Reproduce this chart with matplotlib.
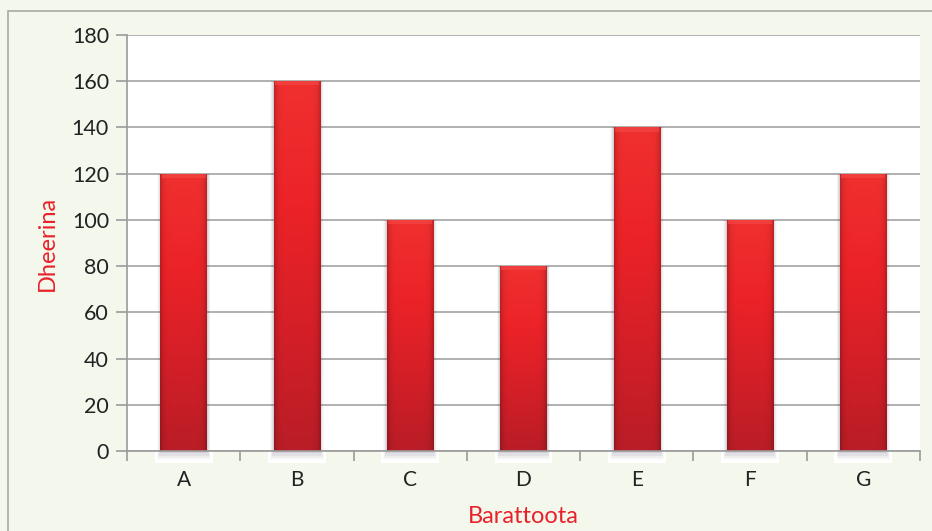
import numpy as np
import matplotlib.pyplot as plt
from matplotlib.patches import Rectangle
from matplotlib.colors import LinearSegmentedColormap

categories = ["A", "B", "C", "D", "E", "F", "G"]
values = [120, 160, 100, 80, 140, 100, 120]
y_ticks = [0, 20, 40, 60, 80, 100, 120, 140, 160, 180]
x_label = "Barattoota"
y_label = "Dheerina"

W, H = 932, 531
fig = plt.figure(figsize=(W / 100, H / 100), dpi=100)
fig.patch.set_facecolor("#f4f7ec")
plt.rcParams["font.family"] = ["Lato", "DejaVu Sans"]

# outer frame
fig.add_artist(Rectangle((8 / W, -0.05), 1.2, 1 - 11 / H + 0.05,
                         transform=fig.transFigure, fill=False,
                         edgecolor="#a8aaa6", linewidth=1.2))

left, right, top, bottom = 127, 920, 35, 451
ax = fig.add_axes([left / W, 1 - bottom / H, (right - left) / W, (bottom - top) / H])
ax.set_facecolor("white")

x = np.arange(len(categories))
bw = 0.41
bars = ax.bar(x, values, width=bw, color="none", edgecolor="none", zorder=3)

cmap = LinearSegmentedColormap.from_list(
    "redgrad", ["#b91d26", "#d51f28", "#ec2328", "#f0302f"])
grad = np.linspace(0, 1, 256).reshape(-1, 1)
hshade = 1 - 0.22 * np.abs(np.linspace(-1, 1, 64)) ** 8
for rect, v in zip(bars, values):
    x0 = rect.get_x()
    # white backing under the bar foot, below the axis
    ax.add_patch(Rectangle((x0 - 0.05, -5), bw + 0.1, 5, facecolor="white",
                           edgecolor="none", zorder=1.5, clip_on=False))
    # soft shadow
    for k, a in enumerate([0.10, 0.07, 0.05, 0.03]):
        d = 0.008 * (k + 1)
        ax.add_patch(Rectangle((x0 - d, -1.0 * (k + 1)), bw + 2 * d, v + 1.0 * (k + 1),
                               facecolor="#404055", alpha=a, edgecolor="none",
                               zorder=2, clip_on=False))
    rgba = cmap(grad)[:, :, :3] * np.ones((1, 64, 1))
    rgba = rgba * hshade[None, :, None]
    im = ax.imshow(rgba, extent=[x0, x0 + bw, 0, v], origin="lower",
                   aspect="auto", zorder=4, interpolation="bilinear")
    im.set_clip_path(rect)
    # bevel highlight at top
    ax.add_patch(Rectangle((x0 + 0.01, v - 1.8), bw - 0.02, 1.8, facecolor="#f44a48",
                           edgecolor="none", alpha=0.6, zorder=5))

ax.set_xlim(-0.5, len(categories) - 0.5)
ax.set_ylim(0, 180)
ax.set_yticks(y_ticks)
ax.set_xticks(x)
ax.set_xticklabels(categories)
ax.set_xticks(np.arange(-0.5, len(categories)), minor=True)
ax.tick_params(axis="x", which="major", length=0, pad=13.5, labelsize=15, colors="#222222")
ax.tick_params(axis="x", which="minor", length=7, width=1.2, color="#9a9a9a")
ax.tick_params(axis="y", length=8, width=1.2, color="#9a9a9a", pad=5,
               labelsize=15.5, labelcolor="#222222")
ax.grid(axis="y", color="#a3a3a3", linewidth=1.2, zorder=1)
ax.set_axisbelow(True)
for s in ["top", "right"]:
    ax.spines[s].set_visible(False)
for s in ["left", "bottom"]:
    ax.spines[s].set_color("#9a9a9a")
    ax.spines[s].set_linewidth(1.2)
    ax.spines[s].set_zorder(6)

ax.set_xlabel(x_label, color="#e8222a", fontsize=17, labelpad=12)
ax.set_ylabel(y_label, color="#e8222a", fontsize=17, labelpad=10)

fig.savefig("out.png", dpi=100, facecolor=fig.get_facecolor())
